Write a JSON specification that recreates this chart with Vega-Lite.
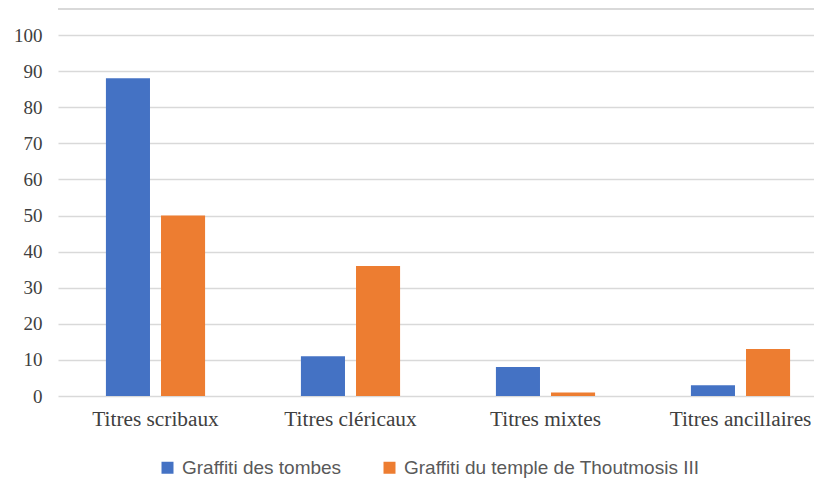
{
  "$schema": "https://vega.github.io/schema/vega-lite/v6.json",
  "width": 756,
  "height": 361,
  "autosize": {"type": "none"},
  "padding": {"left": 58, "top": 35, "right": 0, "bottom": 96},
  "background": "white",
  "config": {"view": {"stroke": null}},
  "data": {"values": [
    {"cat": "Titres scribaux", "serie": "Graffiti des tombes", "v": 88},
    {"cat": "Titres scribaux", "serie": "Graffiti du temple de Thoutmosis III", "v": 50},
    {"cat": "Titres cléricaux", "serie": "Graffiti des tombes", "v": 11},
    {"cat": "Titres cléricaux", "serie": "Graffiti du temple de Thoutmosis III", "v": 36},
    {"cat": "Titres mixtes", "serie": "Graffiti des tombes", "v": 8},
    {"cat": "Titres mixtes", "serie": "Graffiti du temple de Thoutmosis III", "v": 1},
    {"cat": "Titres ancillaires", "serie": "Graffiti des tombes", "v": 3},
    {"cat": "Titres ancillaires", "serie": "Graffiti du temple de Thoutmosis III", "v": 13}
  ]},
  "layer": [
    {
      "mark": {"type": "bar"},
      "encoding": {
        "x": {"field": "cat", "type": "nominal", "sort": null,
          "scale": {"range": [0, 780], "paddingInner": 0, "paddingOuter": 0},
          "axis": {"title": null, "labelAngle": 0, "domain": false, "ticks": false, "grid": false,
            "labelFont": "Liberation Serif", "labelFontSize": 21.3, "labelColor": "#404040", "labelPadding": 12, "labelLimit": 0}},
        "xOffset": {"field": "serie", "type": "nominal", "sort": null,
          "scale": {"paddingInner": 0.2, "paddingOuter": 0.87}},
        "y": {"field": "v", "type": "quantitative",
          "scale": {"domain": [0, 100], "nice": false},
          "axis": {"title": null, "values": [0,10,20,30,40,50,60,70,80,90,100], "domain": false, "ticks": false,
            "grid": true, "gridColor": "#D9D9D9", "gridWidth": 1.4, "labelOverlap": false,
            "labelFont": "Liberation Serif", "labelFontSize": 19, "labelColor": "#404040", "labelPadding": 16}},
        "color": {"field": "serie", "type": "nominal", "sort": null,
          "scale": {"range": ["#4472C4", "#ED7D31"]},
          "legend": {"title": null, "orient": "none", "direction": "horizontal", "legendX": 100, "legendY": 423,
            "symbolType": "square", "symbolSize": 144, "symbolStrokeWidth": 0,
            "labelFont": "Liberation Sans", "labelFontSize": 19, "labelColor": "#595959", "labelLimit": 0,
            "labelOffset": 5, "columnPadding": 38}}
      }
    },
    {
      "mark": {"type": "rule", "color": "#D9D9D9", "strokeWidth": 1.4, "clip": false},
      "encoding": {"y": {"datum": 107.2, "type": "quantitative",
          "axis": {"title": null, "values": [0,10,20,30,40,50,60,70,80,90,100], "domain": false, "ticks": false,
            "grid": true, "gridColor": "#D9D9D9", "gridWidth": 1.4, "labelOverlap": false,
            "labelFont": "Liberation Serif", "labelFontSize": 19, "labelColor": "#404040", "labelPadding": 16}}}
    }
  ]
}
